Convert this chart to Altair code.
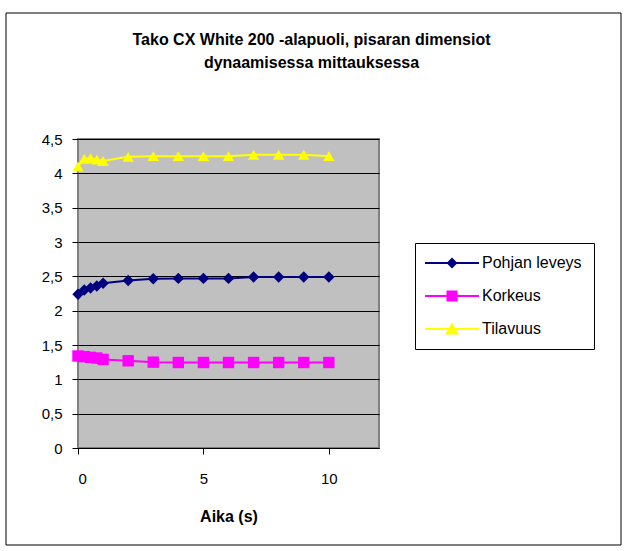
import altair as alt
import pandas as pd

times = [0, 0.25, 0.5, 0.75, 1, 2, 3, 4, 5, 6, 7, 8, 9, 10]
pohjan_leveys = [2.24, 2.30, 2.33, 2.36, 2.40, 2.44, 2.465, 2.47, 2.47, 2.47, 2.49, 2.49, 2.49, 2.49]
korkeus = [1.34, 1.33, 1.32, 1.31, 1.29, 1.27, 1.25, 1.245, 1.245, 1.245, 1.245, 1.245, 1.245, 1.245]
tilavuus = [4.10, 4.21, 4.22, 4.20, 4.18, 4.24, 4.25, 4.25, 4.25, 4.25, 4.27, 4.27, 4.27, 4.25]

series_names = ["Pohjan leveys", "Korkeus", "Tilavuus"]
series_colors = ["#000080", "#FF00FF", "#FFFF00"]
marker_shapes = ["diamond", "square", "triangle-up"]
legend_shapes = [
    "M-5.4,-0.2H5.4V0.2H-5.4Z M-1.1,0L0,-1.1L1.1,0L0,1.1Z",
    "M-5.4,-0.2H5.4V0.2H-5.4Z M-1.1,-1.1H1.1V1.1H-1.1Z",
    "M-5.4,-0.2H5.4V0.2H-5.4Z M0,-1.3L1.4,1.1L-1.4,1.1Z",
]
y_ticks = [0, 0.5, 1, 1.5, 2, 2.5, 3, 3.5, 4, 4.5]
x_ticks = [0, 5, 10]
title_lines = ["Tako CX White 200 -alapuoli, pisaran dimensiot", "dynaamisessa mittauksessa"]

rows = []
for name, vals in zip(series_names, [pohjan_leveys, korkeus, tilavuus]):
    for t, v in zip(times, vals):
        rows.append({"Aika": t, "Arvo": v, "Sarja": name})
df = pd.DataFrame(rows)

FONT = "Liberation Sans, Arial, sans-serif"

x_enc = alt.X(
    "Aika:Q",
    scale=alt.Scale(domain=[0, 12], nice=False),
    axis=alt.Axis(values=x_ticks, title="Aika (s)", grid=False, tickSize=6,
                  labelPadding=17, titlePadding=22, domain=True),
)
y_enc = alt.Y(
    "Arvo:Q",
    scale=alt.Scale(domain=[0, 4.5], nice=False),
    axis=alt.Axis(values=y_ticks, title=None, grid=True, gridColor="black",
                  gridOpacity=1, tickSize=6, labelPadding=10, domain=False,
                  labelExpr="replace(format(datum.value, '~g'), '.', ',')"),
)
color_noleg = alt.Color("Sarja:N", scale=alt.Scale(domain=series_names, range=series_colors), legend=None)

base = alt.Chart(df)

lines = base.mark_line(strokeWidth=2).encode(
    x=x_enc, y=y_enc, color=color_noleg, detail="Sarja:N", order="Aika:Q"
)

points = base.mark_point(filled=True, opacity=1, size=130).encode(
    x=x_enc, y=y_enc, color=color_noleg,
    shape=alt.Shape("Sarja:N", scale=alt.Scale(domain=series_names, range=marker_shapes), legend=None),
)

leg_props = dict(
    orient="none", legendX=337, legendY=104, title=None, padding=12,
    strokeColor="black", fillColor="white", symbolSize=100, symbolOffset=17,
    labelOffset=22, rowPadding=17, labelFontSize=16, labelFont=FONT,
    labelColor="black", symbolStrokeWidth=0, symbolOpacity=1,
    labelExpr="datum.label + '\u00a0\u00a0\u00a0\u00a0\u00a0\u00a0\u00a0\u00a0\u00a0'",
)

legend_layer = base.transform_filter("false").mark_point(filled=True, opacity=1).encode(
    x=x_enc, y=y_enc,
    color=alt.Color("Sarja:N", scale=alt.Scale(domain=series_names, range=series_colors),
                    legend=alt.Legend(**leg_props)),
    shape=alt.Shape("Sarja:N", scale=alt.Scale(domain=series_names, range=legend_shapes),
                    legend=alt.Legend(**leg_props)),
)

border = alt.Chart(pd.DataFrame({"k": [0]})).mark_rect(
    fill="transparent", stroke="black", strokeWidth=1, clip=False
).encode(x=alt.value(-72), x2=alt.value(543), y=alt.value(-126), y2=alt.value(406))

chart = alt.layer(border, lines, points, legend_layer).resolve_scale(
    color="independent", shape="independent"
).properties(
    width=301, height=309,
    padding={"left": 78, "top": 139, "right": 248, "bottom": 103},
    autosize=alt.AutoSizeParams(type="none"),
    background="white",
    title=alt.TitleParams(
        title_lines,
        anchor="middle", frame="group", fontSize=16, font=FONT, fontWeight="bold",
        color="black", dx=83, offset=-58, baseline="top", lineHeight=23,
    ),
).configure_view(
    fill="#C0C0C0", stroke="#808080", strokeWidth=2
).configure_axis(
    labelFont=FONT, labelFontSize=15, labelColor="black", tickColor="black",
    domainColor="black", titleFont=FONT, titleFontSize=16, titleFontWeight="bold",
    titleColor="black",
)

chart.save("out.html", embed_options={"renderer": "svg", "actions": False})
